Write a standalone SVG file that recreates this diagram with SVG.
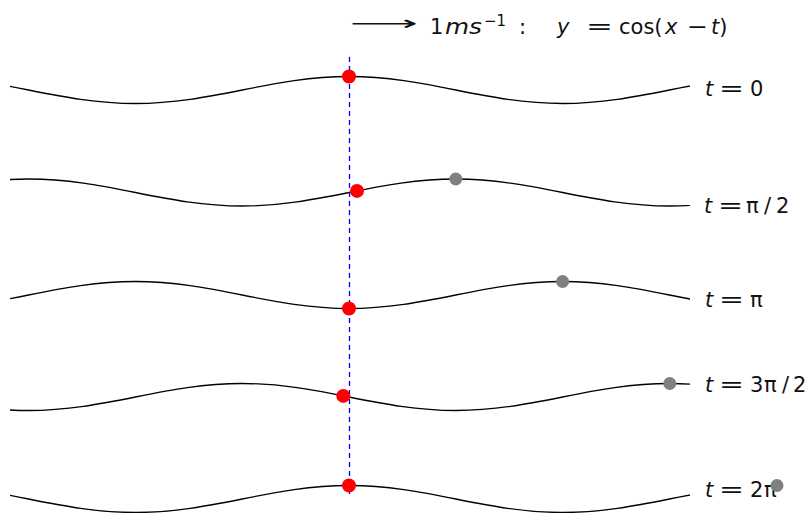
<svg xmlns="http://www.w3.org/2000/svg" xmlns:xlink="http://www.w3.org/1999/xlink" width="808" height="513" viewBox="0 0 808 513">
<style>
.wave{fill:none;stroke:#000;stroke-width:1.3}
.lbl{font-family:"DejaVu Sans","Liberation Sans",sans-serif;font-size:21px;fill:#111}
.it{font-style:italic}
.red{fill:#ff0000}
.gray{fill:#808080}
.axis{stroke:#0000ff;stroke-width:1.3;stroke-dasharray:5 4;fill:none}
</style>
<defs>
<path id="wave" d="M -961.29,0 c 34.84,-6.92 68.16,-13.5 106.81,-13.5 s 71.97,6.58 106.81,13.5 s 68.16,13.5 106.81,13.5 s 71.97,-6.58 106.81,-13.5 s 68.16,-13.5 106.81,-13.5 s 71.97,6.58 106.81,13.5 s 68.16,13.5 106.81,13.5 s 71.97,-6.58 106.81,-13.5 s 68.16,-13.5 106.81,-13.5 s 71.97,6.58 106.81,13.5 s 68.16,13.5 106.81,13.5 s 71.97,-6.58 106.81,-13.5 s 68.16,-13.5 106.81,-13.5 s 71.97,6.58 106.81,13.5"/>
<clipPath id="clip"><rect x="10" y="0" width="680" height="513"/></clipPath>
</defs>

<g id="title" class="lbl">
<text x="350" y="30" font-size="20" textLength="68" lengthAdjust="spacingAndGlyphs">⟶</text>
<text x="430" y="34">1</text>
<text x="445" y="34" class="it" textLength="37" lengthAdjust="spacingAndGlyphs">ms</text>
<text x="484" y="26" font-size="15">−1</text>
<text x="519" y="34">:</text>
<text x="557" y="34" class="it">y</text>
<text x="586" y="34" textLength="27" lengthAdjust="spacingAndGlyphs">=</text>
<text x="619" y="34">cos(</text>
<text x="665" y="34" class="it">x</text>
<text x="687" y="34" textLength="21" lengthAdjust="spacingAndGlyphs">−</text>
<text x="711" y="34"><tspan class="it">t</tspan>)</text>
</g>

<g id="connectors">
<g clip-path="url(#clip)">
<use xlink:href="#wave" class="wave" transform="translate(349,90)"/>
<use xlink:href="#wave" class="wave" transform="translate(455.81,192.5)"/>
<use xlink:href="#wave" class="wave" transform="translate(562.62,295)"/>
<use xlink:href="#wave" class="wave" transform="translate(669.43,397)"/>
<use xlink:href="#wave" class="wave" transform="translate(776.24,499)"/>
</g>
<line class="axis" x1="349.5" y1="57" x2="349.5" y2="495"/>
</g>

<g id="row0" class="lbl">
<text x="705" y="95.5" class="it">t</text>
<text x="719" y="95.5" textLength="25" lengthAdjust="spacingAndGlyphs">=</text>
<text x="750" y="95.5">0</text>
<circle class="red" cx="349" cy="76.5" r="7"/>
</g>
<g id="row1" class="lbl">
<text x="704" y="213.3" class="it">t</text>
<text x="718" y="213.3" textLength="25" lengthAdjust="spacingAndGlyphs">=</text>
<text x="746" y="213.3">π</text>
<text x="764" y="213.3">/</text>
<text x="776" y="213.3">2</text>
<circle class="red" cx="357" cy="190.9" r="7"/>
<circle class="gray" cx="455.8" cy="179" r="6.5"/>
</g>
<g id="row2" class="lbl">
<text x="705" y="306.7" class="it">t</text>
<text x="719" y="306.7" textLength="25" lengthAdjust="spacingAndGlyphs">=</text>
<text x="750" y="306.7">π</text>
<circle class="red" cx="349" cy="308.5" r="7"/>
<circle class="gray" cx="562.6" cy="281.5" r="6.5"/>
</g>
<g id="row3" class="lbl">
<text x="705" y="391.7" class="it">t</text>
<text x="719" y="391.7" textLength="25" lengthAdjust="spacingAndGlyphs">=</text>
<text x="750" y="391.7">3</text>
<text x="764" y="391.7">π</text>
<text x="782" y="391.7">/</text>
<text x="793" y="391.7">2</text>
<circle class="red" cx="343.3" cy="395.9" r="7"/>
<circle class="gray" cx="669.8" cy="383.5" r="6.5"/>
</g>
<g id="row4" class="lbl">
<text x="705" y="497" class="it">t</text>
<text x="719" y="497" textLength="25" lengthAdjust="spacingAndGlyphs">=</text>
<text x="750" y="497">2</text>
<text x="764" y="497">π</text>
<circle class="red" cx="349" cy="485.5" r="7"/>
<circle class="gray" cx="777" cy="485.5" r="6.5"/>
</g>
</svg>
